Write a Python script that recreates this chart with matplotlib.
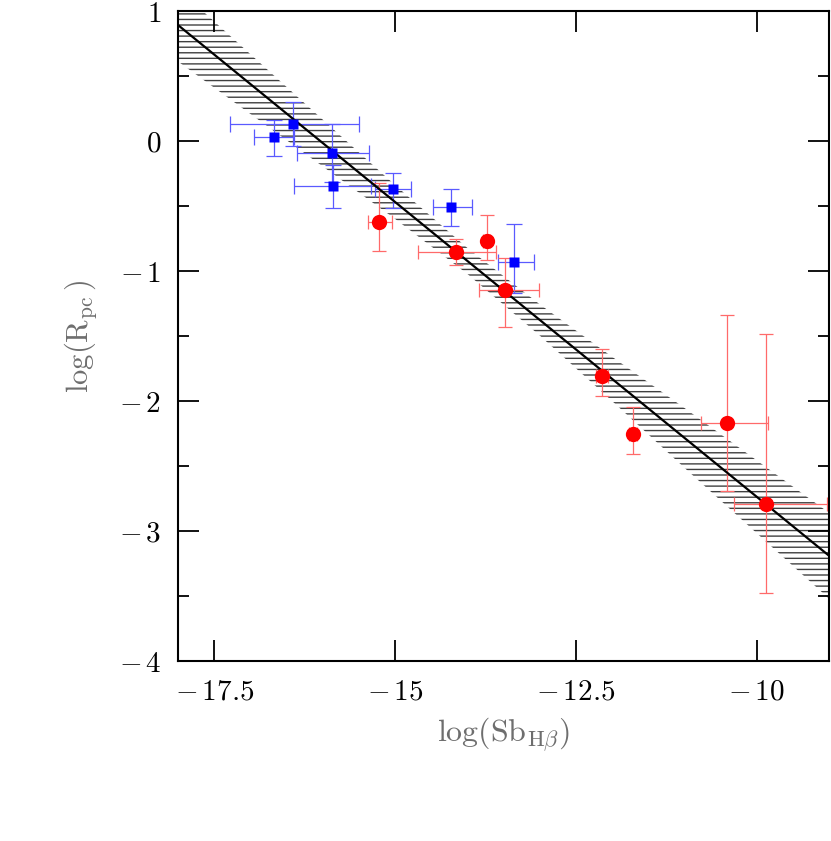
import matplotlib
matplotlib.use("Agg")
import matplotlib.pyplot as plt
import numpy as np

# ---- data ----
blue_x = [-16.67, -16.41, -15.87, -15.86, -15.03, -14.23, -13.35]
blue_y = [0.03, 0.13, -0.095, -0.345, -0.367, -0.505, -0.928]
blue_xerr_lo = [0.28, 0.87, 0.48, 0.53, 0.245, 0.25, 0.23]
blue_xerr_hi = [0.28, 0.91, 0.51, 0.53, 0.245, 0.29, 0.27]
blue_yerr_lo = [0.144, 0.172, 0.22, 0.169, 0.149, 0.151, 0.244]
blue_yerr_hi = [0.128, 0.167, 0.223, 0.162, 0.123, 0.136, 0.29]

red_x = [-15.22, -14.15, -13.73, -13.48, -12.14, -11.71, -10.41, -9.87]
red_y = [-0.62, -0.856, -0.77, -1.146, -1.808, -2.25, -2.17, -2.795]
red_xerr_lo = [0.16, 0.53, 0.05, 0.36, 0.08, 0.05, 0.364, 0.447]
red_xerr_hi = [0.18, 0.55, 0.05, 0.466, 0.08, 0.05, 0.567, 0.839]
red_yerr_lo = [0.226, 0.10, 0.146, 0.282, 0.154, 0.154, 0.52, 0.68]
red_yerr_hi = [0.30, 0.10, 0.20, 0.249, 0.208, 0.203, 0.83, 1.31]

fit_x = [-18.0, -9.0]
fit_y = [0.892, -3.19]

band_x = [-18, -17, -16, -15, -14, -13, -12, -11, -10, -9]
band_hw = [0.28, 0.23, 0.18, 0.13, 0.10, 0.12, 0.17, 0.23, 0.28, 0.33]

xticks = [-17.5, -15, -12.5, -10]
xtick_labels = ['-17.5', '-15', '-12.5', '-10']
yticks = [-4, -3, -2, -1, 0, 1]
ytick_labels = ['-4', '-3', '-2', '-1', '0', '1']
yminor = [-3.5, -2.5, -1.5, -0.5, 0.5]


def mt(s):
    return '$' + s.replace('-', r'-\,') + '$'


# ---- style ----
plt.rcParams['mathtext.fontset'] = 'cm'
plt.rcParams['hatch.linewidth'] = 1.0

fig = plt.figure(figsize=(8.31, 8.41), dpi=100)
ax = fig.add_axes([178/831, 1-661/841, 651/831, 650/841])

# band
bx = np.array(band_x, dtype=float)
by = np.interp(bx, fit_x, fit_y)
hw = np.array(band_hw)
ax.fill_between(bx, by - hw, by + hw, facecolor='none', edgecolor='#404040',
                hatch='---', linewidth=0, zorder=1)
ax.plot(fit_x, fit_y, color='black', lw=1.6, zorder=3)

# error bars
ax.errorbar(blue_x, blue_y, xerr=[blue_xerr_lo, blue_xerr_hi],
            yerr=[blue_yerr_lo, blue_yerr_hi], fmt='none',
            ecolor='#5a5aff', elinewidth=0.9, capsize=6, capthick=0.9, zorder=2)
ax.errorbar(red_x, red_y, xerr=[red_xerr_lo, red_xerr_hi],
            yerr=[red_yerr_lo, red_yerr_hi], fmt='none',
            ecolor='#ff6a6a', elinewidth=0.9, capsize=5, capthick=0.9, zorder=2)
ax.plot(blue_x, blue_y, 's', color='#0000ff', ms=7.7, mec='none', zorder=4)
ax.plot(red_x, red_y, 'o', color='#ff0000', ms=11, mec='none', zorder=4)

ax.set_xlim(-18, -9)
ax.set_ylim(-4, 1)

ax.set_xticks(xticks, labels=[mt(s) for s in xtick_labels])
ax.set_yticks(yticks, labels=[mt(s) for s in ytick_labels])
ax.set_yticks(yminor, minor=True)
ax.tick_params(which='both', direction='in', top=True, right=True, width=1.3,
               labelsize=21, pad=12)
ax.tick_params(which='major', length=15)
ax.tick_params(which='minor', length=8)
for s in ax.spines.values():
    s.set_linewidth(1.5)

ax.set_xlabel(r'$\mathrm{log(Sb}_{\mathrm{H}\beta}\mathrm{)}$', fontsize=23, color='#6e6e6e')
ax.set_ylabel(r'$\mathrm{log(R}_{\mathrm{pc}}\,\mathrm{)}$', fontsize=22, color='#6e6e6e')
ax.xaxis.set_label_coords(0.5, -0.085)
ax.yaxis.set_label_coords(-0.122, 0.5)

fig.savefig('out.png', dpi=100)
